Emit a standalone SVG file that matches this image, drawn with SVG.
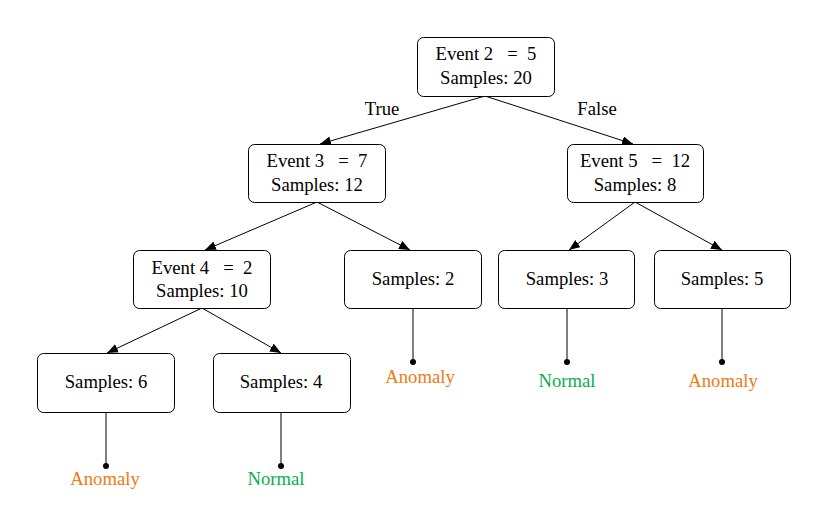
<svg xmlns="http://www.w3.org/2000/svg" width="820" height="514" viewBox="0 0 820 514">
<style>
  .box { fill: #ffffff; stroke: #000000; stroke-width: 1; }
  .t { font-family: "Liberation Serif", "Times New Roman", serif; font-size: 18.7px; fill: #000000; text-anchor: middle; white-space: pre; }
  .edge { stroke: #000000; stroke-width: 1; fill: none; }
  .anom { fill: #f07a14; }
  .norm { fill: #0aae4e; }
</style>
<defs>
  <marker id="arr" markerUnits="userSpaceOnUse" markerWidth="13" markerHeight="10" refX="11" refY="4.5" orient="auto">
    <path d="M0,0 L11,4.5 L0,9 z" fill="#000000"/>
  </marker>
</defs>
<rect width="820" height="514" fill="#ffffff"/>
<g id="connectors">
  <line class="edge" x1="485" y1="96" x2="320" y2="144" marker-end="url(#arr)"/>
  <line class="edge" x1="485" y1="96" x2="633" y2="144" marker-end="url(#arr)"/>
  <line class="edge" x1="317" y1="202" x2="205" y2="250" marker-end="url(#arr)"/>
  <line class="edge" x1="317" y1="202" x2="410" y2="250" marker-end="url(#arr)"/>
  <line class="edge" x1="635" y1="202" x2="569" y2="250" marker-end="url(#arr)"/>
  <line class="edge" x1="635" y1="202" x2="722" y2="250" marker-end="url(#arr)"/>
  <line class="edge" x1="202" y1="308" x2="107" y2="353" marker-end="url(#arr)"/>
  <line class="edge" x1="202" y1="308" x2="281" y2="353" marker-end="url(#arr)"/>
  <text class="t" x="382" y="115">True</text>
  <text class="t" x="597" y="115">False</text>
  <line class="edge" x1="413" y1="308" x2="413" y2="362"/>
  <circle cx="413" cy="362" r="3" fill="#000000"/>
  <line class="edge" x1="567" y1="308" x2="567" y2="362"/>
  <circle cx="567" cy="362" r="3" fill="#000000"/>
  <line class="edge" x1="722" y1="308" x2="722" y2="362"/>
  <circle cx="722" cy="362" r="3" fill="#000000"/>
  <line class="edge" x1="106" y1="412" x2="106" y2="466"/>
  <circle cx="106" cy="466" r="3" fill="#000000"/>
  <line class="edge" x1="281" y1="412" x2="281" y2="466"/>
  <circle cx="281" cy="466" r="3" fill="#000000"/>
</g>
<g id="n_e2">
  <rect class="box" x="417.5" y="37.5" width="137" height="59" rx="6"/>
  <text class="t" x="486" y="60">Event 2   =  5</text>
  <text class="t" x="486" y="84">Samples: 20</text>
</g>
<g id="n_e3">
  <rect class="box" x="248.5" y="144.5" width="137" height="58" rx="6"/>
  <text class="t" x="317" y="167">Event 3   =  7</text>
  <text class="t" x="317" y="191">Samples: 12</text>
</g>
<g id="n_e5">
  <rect class="box" x="567.5" y="144.5" width="136" height="58" rx="6"/>
  <text class="t" x="635" y="167">Event 5   =  12</text>
  <text class="t" x="635" y="191">Samples: 8</text>
</g>
<g id="n_e4">
  <rect class="box" x="133.5" y="250.5" width="137" height="58" rx="6"/>
  <text class="t" x="202" y="274">Event 4   =  2</text>
  <text class="t" x="202" y="297">Samples: 10</text>
</g>
<g id="n_s2">
  <rect class="box" x="344.5" y="250.5" width="137" height="58" rx="6"/>
  <text class="t" x="413" y="285">Samples: 2</text>
</g>
<g id="n_s3">
  <rect class="box" x="498.5" y="250.5" width="136" height="58" rx="6"/>
  <text class="t" x="567" y="285">Samples: 3</text>
</g>
<g id="n_s5">
  <rect class="box" x="654.5" y="250.5" width="136" height="58" rx="6"/>
  <text class="t" x="722" y="285">Samples: 5</text>
</g>
<g id="n_s6">
  <rect class="box" x="37.5" y="353.5" width="137" height="59" rx="6"/>
  <text class="t" x="106" y="388">Samples: 6</text>
</g>
<g id="n_s4">
  <rect class="box" x="213.5" y="353.5" width="137" height="59" rx="6"/>
  <text class="t" x="281" y="388">Samples: 4</text>
</g>
<g id="leaf_labels">
  <text class="t anom" x="420" y="383">Anomaly</text>
  <text class="t norm" x="567" y="387">Normal</text>
  <text class="t anom" x="723" y="387">Anomaly</text>
  <text class="t anom" x="105" y="485">Anomaly</text>
  <text class="t norm" x="276" y="485">Normal</text>
</g>
</svg>
